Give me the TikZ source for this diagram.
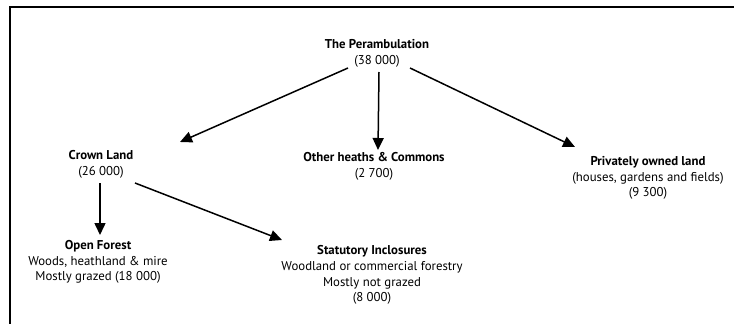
\documentclass[tikz,border=0pt]{standalone}
\usepackage{fontspec}
\setmainfont{PT Sans}
\usetikzlibrary{arrows.meta,calc}
\begin{document}
\begin{tikzpicture}[x=1pt,y=-1pt,
  lbl/.style={align=center,inner sep=0pt,font=\fontsize{12.8}{15.8}\selectfont},
  arr/.style={line width=1.5pt,-{Triangle[length=12pt,width=11pt]}},
  frame/.style={line width=1.5pt}]
\useasboundingbox (0,0) rectangle (734,324);
\draw[frame] (10,324) -- (10,7) -- (734,7);
\node[lbl] (per) at (377,53) {\textbf{The Perambulation}\\(38 000)};
\node[lbl] (crown) at (101,164) {\textbf{Crown Land}\\(26 000)};
\node[lbl] (other) at (374,166) {\textbf{Other heaths \& Commons}\\(2 700)};
\node[lbl] (private) at (648,178) {\textbf{Privately owned land}\\(houses, gardens and fields)\\(9 300)};
\node[lbl] (open) at (98,262) {\textbf{Open Forest}\\Woods, heathland \& mire\\Mostly grazed (18 000)};
\node[lbl] (stat) at (372,275) {\textbf{Statutory Inclosures}\\Woodland or commercial forestry\\Mostly not grazed\\(8 000)};
\draw[arr] ($(per.center)+(-29,15)$) -- ($(crown.center)+(79,-22)$);
\draw[arr] ($(per.center)+(2,19)$) -- ($(other.center)+(4,-16)$);
\draw[arr] ($(per.center)+(33,15)$) -- ($(private.center)+(-73,-31)$);
\draw[arr] ($(crown.center)+(-1,19)$) -- ($(open.center)+(2,-27)$);
\draw[arr] ($(crown.center)+(34,19)$) -- ($(stat.center)+(-90,-35)$);
\end{tikzpicture}
\end{document}
